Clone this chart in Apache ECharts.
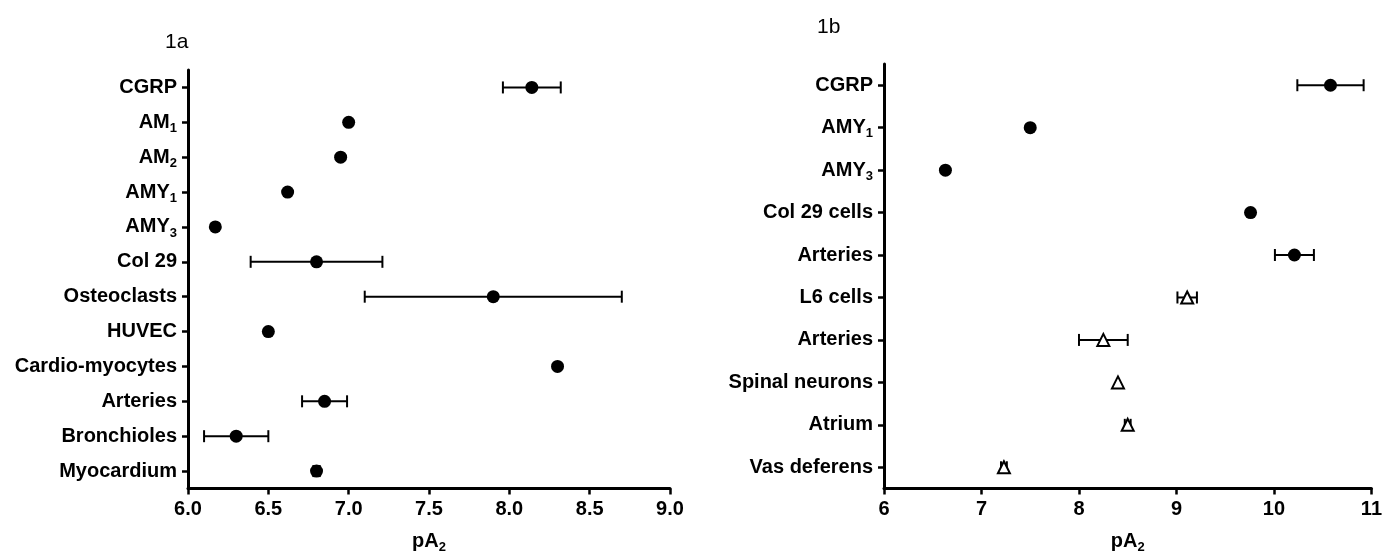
<!DOCTYPE html>
<html>
<head>
<meta charset="utf-8">
<script src="https://cdn.jsdelivr.net/npm/echarts@6/dist/echarts.min.js"></script>
<style>
html,body{margin:0;padding:0;background:#fff;}
#c{width:1385px;height:559px;}
</style>
</head>
<body>
<div id="c"></div>
<script>
// ---- data ----
var leftCategories = ['CGRP','AM_1','AM_2','AMY_1','AMY_3','Col 29','Osteoclasts','HUVEC','Cardio-myocytes','Arteries','Bronchioles','Myocardium'];
var leftMean = [8.14, 7.00, 6.95, 6.62, 6.17, 6.80, 7.90, 6.50, 8.30, 6.85, 6.30, 6.80];
var leftErr  = [0.18, null, null, null, null, 0.41, 0.80, null, null, 0.14, 0.20, 0.02];

var rightCategories = ['CGRP','AMY_1','AMY_3','Col 29 cells','Arteries','L6 cells','Arteries','Spinal neurons','Atrium','Vas deferens'];
var rightMean = [10.58, 7.50, 6.63, 9.76, 10.21, 9.11, 8.25, 8.40, 8.50, 7.23];
var rightErr  = [0.34, null, null, null, 0.20, 0.10, 0.25, null, 0.03, 0.03];
var rightOpen = [false, false, false, false, false, true, true, true, true, true];

var leftTicks = {min: 6, max: 9, interval: 0.5};
var rightTicks = {min: 6, max: 11, interval: 1};

// ---- helpers ----
var FONT = 'Liberation Sans, Arial, sans-serif';
function subFmt(v){ return v.replace(/_(\d)/g, '{s|$1}'); }
var subRich = { s: { fontSize: 13, fontWeight: 'bold', fontFamily: FONT, color: '#000', lineHeight: 13, padding: [12,0,0,0] } };

function errData(mean, err){
  var out = [];
  for (var i = 0; i < mean.length; i++) {
    if (err[i] != null) out.push([mean[i] - err[i], mean[i] + err[i], i]);
  }
  return out;
}
function pts(mean, filter){
  var out = [];
  for (var i = 0; i < mean.length; i++) if (!filter || filter(i)) out.push([mean[i], i]);
  return out;
}
function renderErr(params, api){
  var lo = api.coord([api.value(0), api.value(2)]);
  var hi = api.coord([api.value(1), api.value(2)]);
  var h = 6;
  var st = {stroke: '#000', lineWidth: 2};
  return {type: 'group', children: [
    {type: 'line', shape: {x1: lo[0], y1: lo[1], x2: hi[0], y2: hi[1]}, style: st},
    {type: 'line', shape: {x1: lo[0], y1: lo[1]-h, x2: lo[0], y2: lo[1]+h}, style: st},
    {type: 'line', shape: {x1: hi[0], y1: hi[1]-h, x2: hi[0], y2: hi[1]+h}, style: st}
  ]};
}
function xAxisCfg(idx, t, fmt){
  return {
    type: 'value', gridIndex: idx, min: t.min, max: t.max, interval: t.interval,
    splitLine: {show: false},
    axisLine: {show: true, onZero: false, lineStyle: {color: '#000', width: 3}},
    axisTick: {show: true, length: 6, lineStyle: {color: '#000', width: 2.5}},
    axisLabel: {color: '#000', fontSize: 20, fontWeight: 'bold', fontFamily: FONT, margin: 11, formatter: fmt},
    name: 'pA{s|2}', nameLocation: 'middle', nameGap: 43,
    nameTextStyle: {color: '#000', fontSize: 20, fontWeight: 'bold', fontFamily: FONT, rich: subRich}
  };
}
function yAxisCfg(idx, cats){
  return {
    type: 'category', gridIndex: idx, data: cats, inverse: true, boundaryGap: true,
    axisLine: {show: true, onZero: false, lineStyle: {color: '#000', width: 3}},
    axisTick: {show: true, alignWithLabel: true, length: 6, lineStyle: {color: '#000', width: 2.5}},
    splitLine: {show: false},
    axisLabel: {color: '#000', fontSize: 20, fontWeight: 'bold', fontFamily: FONT, margin: 11, interval: 0,
      formatter: subFmt, rich: subRich}
  };
}

var chart = echarts.init(document.getElementById('c'), null, {renderer: 'canvas'});
chart.setOption({
  backgroundColor: '#fff',
  animation: false,
  title: [
    {text: '1a', left: 160, top: 27, textStyle: {fontSize: 21, fontWeight: 'normal', color: '#000', fontFamily: FONT}},
    {text: '1b', left: 812, top: 12, textStyle: {fontSize: 21, fontWeight: 'normal', color: '#000', fontFamily: FONT}}
  ],
  grid: [
    {left: 188, top: 70, width: 482, height: 423},
    {left: 884, top: 64, width: 488, height: 429}
  ],
  xAxis: [
    xAxisCfg(0, leftTicks, function(v){ return v.toFixed(1); }),
    xAxisCfg(1, rightTicks, function(v){ return String(v); })
  ],
  yAxis: [ yAxisCfg(0, leftCategories), yAxisCfg(1, rightCategories) ],
  series: [
    {type: 'custom', xAxisIndex: 0, yAxisIndex: 0, renderItem: renderErr, data: errData(leftMean, leftErr),
      encode: {x: [0,1], y: 2}, z: 2, silent: true},
    {type: 'scatter', xAxisIndex: 0, yAxisIndex: 0, data: pts(leftMean), symbol: 'circle', symbolSize: 13,
      itemStyle: {color: '#000', opacity: 1}, z: 3},
    {type: 'custom', xAxisIndex: 1, yAxisIndex: 1, renderItem: renderErr, data: errData(rightMean, rightErr),
      encode: {x: [0,1], y: 2}, z: 2, silent: true},
    {type: 'scatter', xAxisIndex: 1, yAxisIndex: 1, data: pts(rightMean, function(i){ return !rightOpen[i]; }),
      symbol: 'circle', symbolSize: 13, itemStyle: {color: '#000', opacity: 1}, z: 3},
    {type: 'scatter', xAxisIndex: 1, yAxisIndex: 1, data: pts(rightMean, function(i){ return rightOpen[i]; }),
      symbol: 'triangle', symbolSize: 12, itemStyle: {color: '#fff', borderColor: '#000', borderWidth: 2, opacity: 1}, z: 3}
  ]
});
</script>
</body>
</html>
